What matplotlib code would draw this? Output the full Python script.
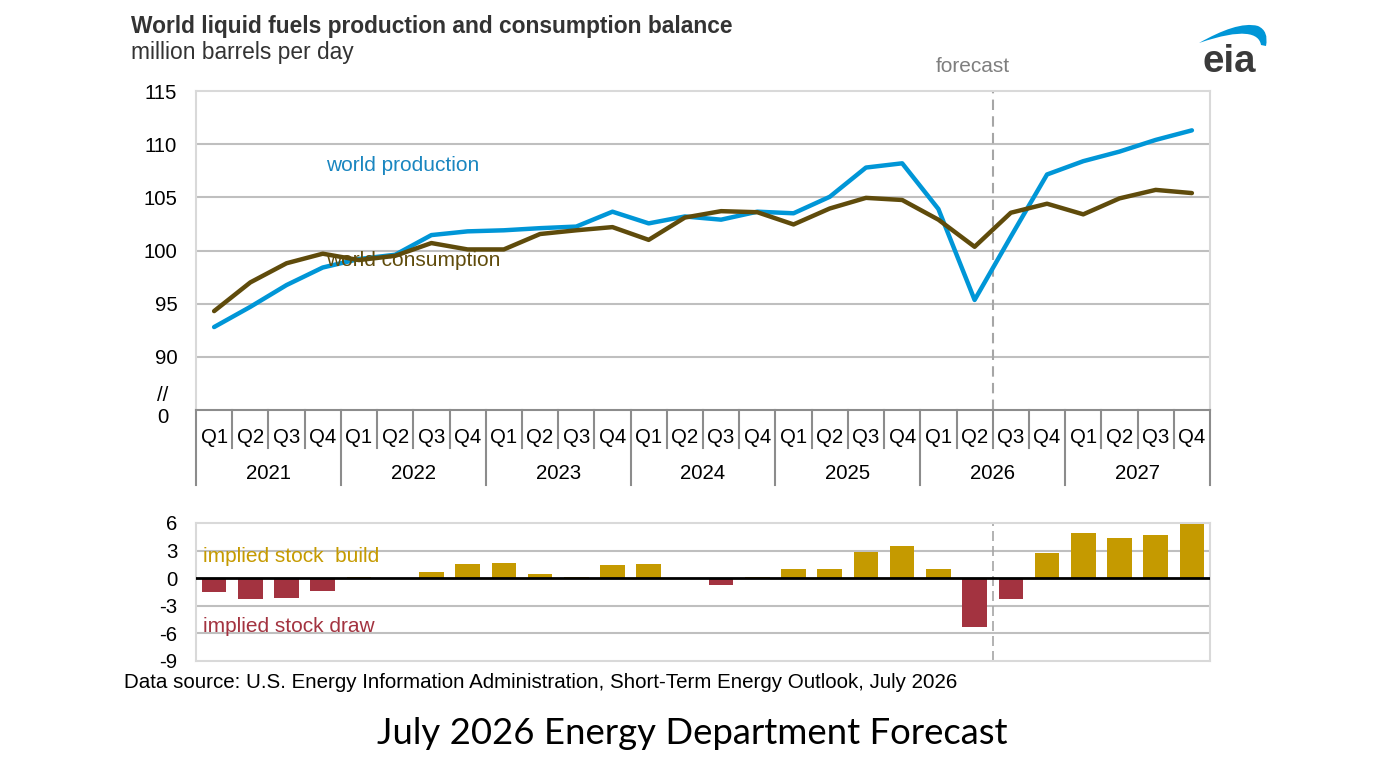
import numpy as np
import matplotlib
matplotlib.use("Agg")
import matplotlib.pyplot as plt
from matplotlib.path import Path
from matplotlib.patches import PathPatch

plt.rcParams['font.family'] = ['Liberation Sans', 'DejaVu Sans']
plt.rcParams['axes.unicode_minus'] = False

years = ['2021', '2022', '2023', '2024', '2025', '2026', '2027']
quarters = ['Q1', 'Q2', 'Q3', 'Q4']

production = [92.8, 94.7, 96.75, 98.4, 99.2, 99.6, 101.45, 101.8,
              101.9, 102.1, 102.25, 103.65, 102.55, 103.2, 102.9, 103.65,
              103.5, 105.05, 107.8, 108.2, 103.9, 95.35, 101.3, 107.15,
              108.4, 109.3, 110.4, 111.3]
consumption = [94.3, 97.0, 98.8, 99.7, 99.1, 99.5, 100.7, 100.1,
               100.1, 101.55, 101.9, 102.2, 101.0, 103.1, 103.7, 103.6,
               102.45, 103.95, 104.95, 104.75, 102.9, 100.35, 103.55, 104.4,
               103.4, 104.9, 105.7, 105.4]
stock_change = [-1.5, -2.25, -2.15, -1.4, 0.15, 0.05, 0.65, 1.55,
                1.7, 0.5, 0.15, 1.45, 1.5, 0.05, -0.7, 0.1,
                1.0, 1.0, 2.8, 3.5, 1.0, -5.25, -2.3, 2.7,
                4.95, 4.4, 4.7, 5.85]
forecast_start = 22  # first forecast quarter index (2026 Q3)

W, H = 1380, 768
fig = plt.figure(figsize=(W / 100, H / 100), dpi=100)

def fx(px):
    return px / W

def fy(py):
    return 1 - py / H

blue = '#0096d7'
brown = '#5f4b0b'
gold = '#c59a00'
red = '#a33340'
grid = '#bfbfbf'
frame = '#d9d9d9'
tablec = '#8c8c8c'
fs = 14.7

n = len(production)
x = np.arange(n)

# ---- top panel
ax = fig.add_axes([fx(196), fy(410), fx(1210) - fx(196), fy(91) - fy(410)])
ax.plot(x, production, color=blue, lw=3.2, solid_capstyle='round', zorder=3)
ax.plot(x, consumption, color=brown, lw=3.2, solid_capstyle='round', zorder=3)
ax.set_xlim(-0.5, n - 0.5)
ax.set_ylim(85, 115)
ax.set_yticks([90, 95, 100, 105, 110, 115])
ax.set_xticks([])
for y in [90, 95, 100, 105, 110]:
    ax.axhline(y, color=grid, lw=1.5, zorder=1)
for s in ['top', 'left', 'right']:
    ax.spines[s].set_color(frame)
    ax.spines[s].set_linewidth(1.5)
ax.spines['bottom'].set_color(tablec)
ax.spines['bottom'].set_linewidth(1.5)
ax.tick_params(axis='y', length=0, pad=13.5, labelsize=fs)
ax.axvline(forecast_start - 0.5, color='#a6a6a6', lw=1.5, ls=(0, (5, 3)), zorder=2)

ax.text(-0.0276, 86.4, '//', transform=ax.get_yaxis_transform(), ha='right',
        va='center', fontsize=fs, clip_on=False)
ax.text(-0.0276, 84.3, '0', transform=ax.get_yaxis_transform(), ha='right',
        va='center', fontsize=fs, clip_on=False)
ax.text(3.1, 108.04, 'world production', color='#1a86c0', fontsize=15, va='center')
ax.text(3.1, 99.1, 'world consumption', color=brown, fontsize=15, va='center')

# category table below the top panel
tr = ax.get_xaxis_transform()
for i in range(n):
    ax.text(i, -0.087, quarters[i % 4], transform=tr, ha='center', va='center',
            fontsize=fs, clip_on=False)
    if i % 4 != 0:
        ax.plot([i - 0.5, i - 0.5], [0, -0.119], transform=tr, color=tablec,
                lw=1.5, clip_on=False)
for k, yr in enumerate(years):
    ax.text(4 * k + 1.5, -0.200, yr, transform=tr, ha='center', va='center',
            fontsize=fs, clip_on=False)
for k in range(len(years) + 1):
    ax.plot([4 * k - 0.5, 4 * k - 0.5], [0, -0.235], transform=tr, color=tablec,
            lw=1.5, clip_on=False)

# ---- bottom panel
ax2 = fig.add_axes([fx(196), fy(661), fx(1210) - fx(196), fy(523) - fy(661)])
colors = [gold if v >= 0 else red for v in stock_change]
ax2.bar(x, stock_change, width=0.68, color=colors, zorder=3)
ax2.set_xlim(-0.5, n - 0.5)
ax2.set_ylim(-9, 6)
ax2.set_yticks([-9, -6, -3, 0, 3, 6])
ax2.set_xticks([])
for y in [3, -3, -6]:
    ax2.axhline(y, color=grid, lw=1.5, zorder=1)
ax2.axhline(0, color='black', lw=2, zorder=4)
for s in ax2.spines.values():
    s.set_color(frame)
    s.set_linewidth(1.5)
ax2.tick_params(axis='y', length=0, pad=13.5, labelsize=fs)
ax2.axvline(forecast_start - 0.5, color='#a6a6a6', lw=1.2, ls=(0, (6, 3)), zorder=2)
ax2.text(-0.3, 2.4, 'implied stock  build', color=gold, fontsize=15, va='center')
ax2.text(-0.3, -5.3, 'implied stock draw', color=red, fontsize=15, va='center')

# ---- titles and notes
fig.text(fx(131), fy(26), 'World liquid fuels production and consumption balance',
         fontsize=16.4, fontweight='bold', color='#333333', va='center')
fig.text(fx(131), fy(52), 'million barrels per day', fontsize=16.4,
         color='#333333', va='center')
fig.text(fx(973), fy(67), 'forecast', fontsize=15, color='#7f7f7f',
         ha='center', va='center')
fig.text(fx(124), fy(682), 'Data source: U.S. Energy Information Administration, '
         'Short-Term Energy Outlook, July 2026', fontsize=14.8, va='center')
fig.text(fx(692), fy(733), 'July 2026 Energy Department Forecast', fontsize=26.3,
         family=['Lato', 'DejaVu Sans'], ha='center', va='center')

# eia logo
fig.text(fx(1229.5), fy(72), 'eia', fontsize=27.7, fontweight='bold',
         color='#3a3a3a', ha='center', va='baseline')
verts = [(1199, 43), (1222, 30), (1243, 22), (1258, 26),
         (1269, 31), (1266, 46), (1261, 45),
         (1259, 33), (1243, 28), (1199, 43)]
codes = [Path.MOVETO, Path.CURVE4, Path.CURVE4, Path.CURVE4,
         Path.CURVE3, Path.CURVE3, Path.LINETO,
         Path.CURVE4, Path.CURVE4, Path.CURVE4]
verts = [(fx(a), fy(b)) for a, b in verts]
fig.patches.append(PathPatch(Path(verts, codes), facecolor=blue, edgecolor='none',
                             transform=fig.transFigure))

fig.savefig('out.png', dpi=100)
